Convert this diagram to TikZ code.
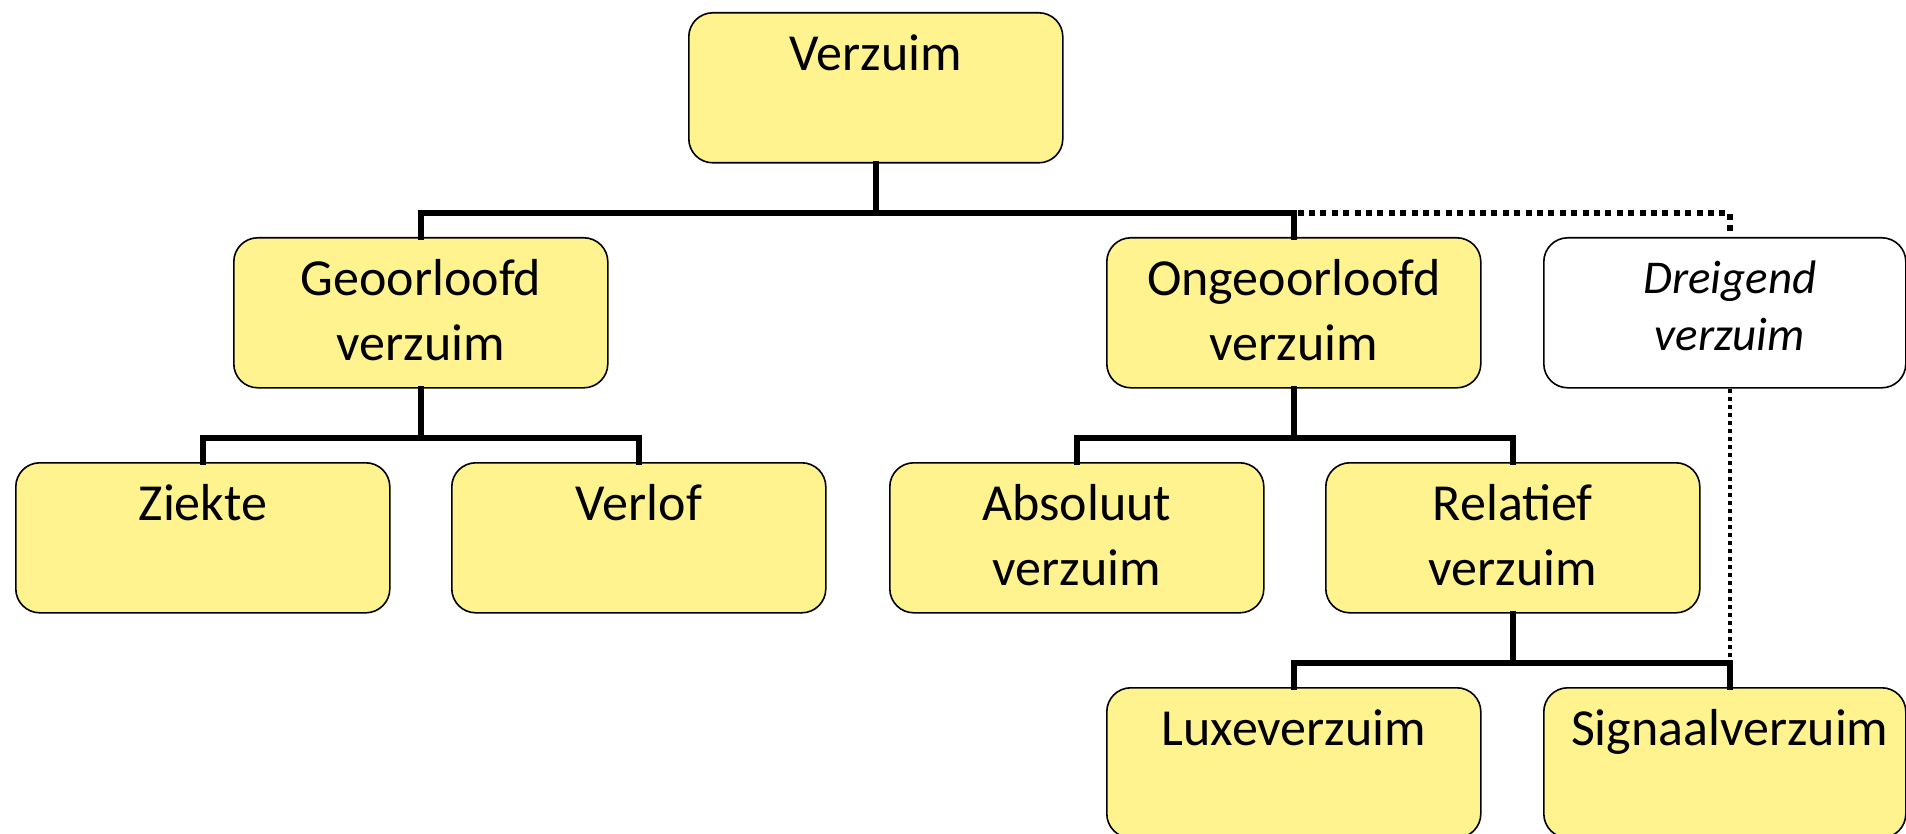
\documentclass[tikz,border=0pt]{standalone}
\usepackage{fontspec}
\setmainfont{Carlito}
\definecolor{boxyellow}{HTML}{FFF390}
\newcommand\boxtxt[1]{\parbox[c][75pt][t]{180pt}{\centering\fontsize{26pt}{32.5pt}\selectfont\rule{0pt}{29pt}#1}}
\newcommand\boxtxtit[1]{\parbox[c][75pt][t]{180pt}{\centering\fontsize{23.5pt}{28.5pt}\selectfont\itshape\rule{0pt}{28pt}#1}}
\begin{document}
\begin{tikzpicture}[x=0.5pt,y=-0.5pt,
  box/.style={draw=black, line width=0.8pt, fill=boxyellow, rounded corners=12pt,
    minimum width=187pt, minimum height=75pt, inner sep=0pt, anchor=north west},
  narrowbox/.style={box, minimum width=181pt},
  conn/.style={line width=3pt, line cap=rect},
  dotconn/.style={line width=3pt, dash pattern=on 3pt off 2.7pt},
  thindot/.style={line width=2pt, dash pattern=on 2pt off 2pt}]
\clip (0,0) rectangle (1906,834);
% nodes
\node[box] (verz) at (688,12) {\boxtxt{Verzuim}};
\node[box] (geo) at (233,237) {\boxtxt{Geoorloofd\\verzuim}};
\node[box] (ongeo) at (1106,237) {\boxtxt{Ongeoorloofd\\verzuim}};
\node[narrowbox, fill=white] (dreig) at (1543,237) {\boxtxtit{\hspace*{5pt}Dreigend\\\hspace*{5pt}verzuim}};
\node[box] (ziekte) at (15,462) {\boxtxt{Ziekte}};
\node[box] (verlof) at (451,462) {\boxtxt{Verlof}};
\node[box] (abs) at (889,462) {\boxtxt{Absoluut\\verzuim}};
\node[box] (rel) at (1325,462) {\boxtxt{Relatief\\verzuim}};
\node[box] (luxe) at (1106,687) {\boxtxt{Luxeverzuim}};
\node[narrowbox] (sig) at (1543,687) {\boxtxt{\hspace*{5pt}Signaalverzuim}};
% bus coordinates
\coordinate (b1) at (874,213);
\coordinate (b2) at (420,438);
\coordinate (b3) at (1293,438);
\coordinate (b4) at (1512,663);
\coordinate (dtop) at ([xshift=2.5pt]dreig.north);
\coordinate (dbot) at ([xshift=2.5pt]dreig.south);
\coordinate (stop) at ([xshift=2.5pt]sig.north);
% dotted connectors
\draw[dotconn] (verz.south |- b1) -| (dtop);
\draw[thindot] (dbot) -- (dbot |- b4);
% solid connectors
\draw[conn] (verz.south) -- (verz.south |- b1);
\draw[conn] (geo.north) |- (b1) -| (ongeo.north);
\draw[conn] (geo.south) -- (geo.south |- b2);
\draw[conn] (ziekte.north) |- (b2) -| (verlof.north);
\draw[conn] (ongeo.south) -- (ongeo.south |- b3);
\draw[conn] (abs.north) |- (b3) -| (rel.north);
\draw[conn] (rel.south) -- (rel.south |- b4);
\draw[conn] (luxe.north) |- (b4) -| (stop);
\end{tikzpicture}
\end{document}
